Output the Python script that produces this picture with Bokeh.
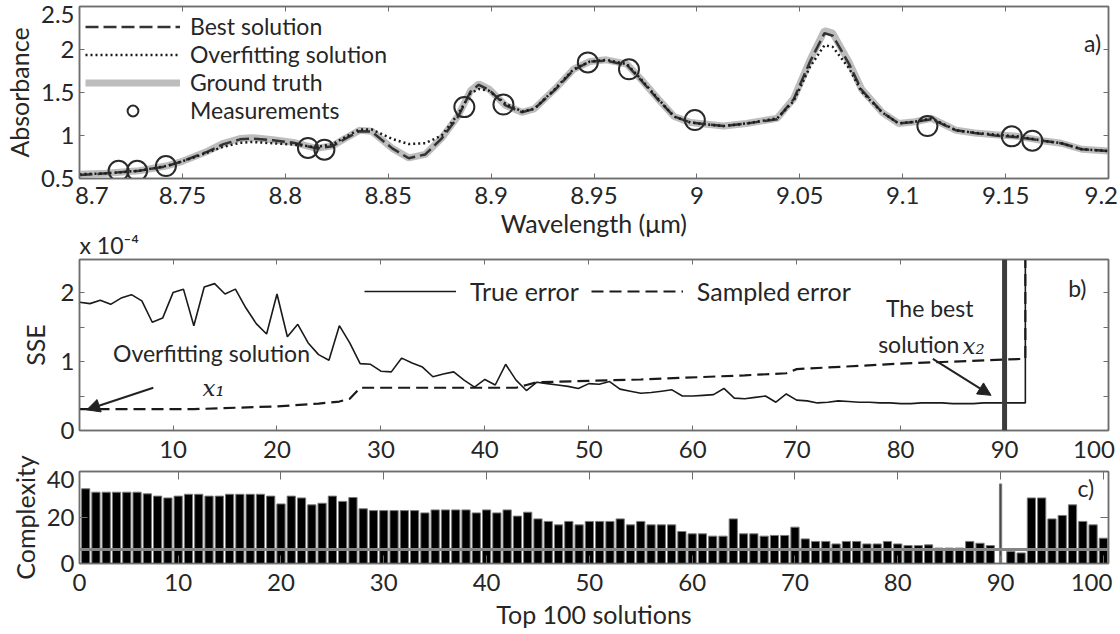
from bokeh.plotting import figure
from bokeh.models import (Legend, LegendItem, Label, Arrow, NormalHead, Span,
                          FixedTicker, LinearAxis, Range1d, ColumnDataSource)
from bokeh.layouts import column
from bokeh.embed import file_html
from bokeh.resources import INLINE

FONT = "Lato"
SERIF = "DejaVu Serif"
INK = "#262626"
FRAME = "#6e6e6e"
TICK_FS = "24px"
TITLE_FS = "25px"
LEGEND_FS = "23px"
TEXT_FS = "23px"

# ---------------- panel a) spectra ----------------
WAVELENGTH = [8.700, 8.713, 8.729, 8.742, 8.750, 8.762, 8.770, 8.778, 8.784, 8.794,
              8.804, 8.815, 8.823, 8.829, 8.836, 8.842, 8.852, 8.860, 8.868, 8.876,
              8.884, 8.890, 8.894, 8.899, 8.907, 8.915, 8.921, 8.931, 8.940, 8.948,
              8.956, 8.966, 8.973, 8.981, 8.989, 8.997, 9.013, 9.024, 9.039, 9.047,
              9.055, 9.062, 9.066, 9.074, 9.080, 9.090, 9.098, 9.106, 9.114, 9.126,
              9.135, 9.145, 9.156, 9.168, 9.177, 9.187, 9.200]
GROUND_TRUTH = [0.55, 0.56, 0.59, 0.645, 0.70, 0.815, 0.91, 0.965, 0.975, 0.95,
                0.92, 0.85, 0.88, 0.965, 1.06, 1.05, 0.85, 0.74, 0.78, 0.97,
                1.23, 1.52, 1.60, 1.54, 1.35, 1.27, 1.31, 1.54, 1.77, 1.86,
                1.88, 1.83, 1.65, 1.43, 1.22, 1.15, 1.11, 1.14, 1.20, 1.43,
                1.88, 2.22, 2.19, 1.85, 1.54, 1.27, 1.14, 1.16, 1.20, 1.06,
                1.03, 1.01, 0.99, 0.94, 0.91, 0.84, 0.82]
BEST_SOLUTION = [0.54, 0.56, 0.59, 0.64, 0.70, 0.81, 0.90, 0.955, 0.965, 0.945,
                 0.915, 0.85, 0.875, 0.96, 1.05, 1.045, 0.85, 0.735, 0.78, 0.965,
                 1.22, 1.51, 1.59, 1.53, 1.35, 1.27, 1.31, 1.53, 1.76, 1.86,
                 1.87, 1.82, 1.64, 1.42, 1.22, 1.15, 1.11, 1.14, 1.19, 1.42,
                 1.86, 2.19, 2.16, 1.83, 1.53, 1.27, 1.14, 1.16, 1.19, 1.06,
                 1.03, 1.00, 0.98, 0.94, 0.91, 0.84, 0.82]
OVERFIT_SOLUTION = [0.55, 0.56, 0.59, 0.645, 0.70, 0.80, 0.87, 0.915, 0.925, 0.91,
                    0.895, 0.865, 0.90, 0.98, 1.07, 1.07, 0.96, 0.90, 0.91, 1.00,
                    1.25, 1.49, 1.54, 1.52, 1.37, 1.28, 1.31, 1.54, 1.77, 1.86,
                    1.88, 1.83, 1.65, 1.43, 1.22, 1.15, 1.11, 1.14, 1.20, 1.40,
                    1.80, 2.05, 2.03, 1.78, 1.51, 1.27, 1.14, 1.16, 1.20, 1.06,
                    1.03, 1.01, 0.99, 0.94, 0.91, 0.84, 0.82]
MEAS_WL = [8.719, 8.728, 8.742, 8.811, 8.819, 8.887, 8.906, 8.947, 8.967, 8.999,
           9.112, 9.153, 9.163]
MEAS_ABS = [0.59, 0.59, 0.645, 0.855, 0.835, 1.33, 1.36, 1.85, 1.77, 1.18,
            1.11, 0.99, 0.94]
A_XTICKS = [8.7, 8.75, 8.8, 8.85, 8.9, 8.95, 9.0, 9.05, 9.1, 9.15, 9.2]
A_XLABELS = ["8.7", "8.75", "8.8", "8.85", "8.9", "8.95", "9", "9.05", "9.1", "9.15", "9.2"]
A_YTICKS = [0.5, 1.0, 1.5, 2.0, 2.5]
A_YLABELS = ["0.5", "1", "1.5", "2", "2.5"]

# ---------------- panel b) errors ----------------
SOLUTION_IDX = list(range(1, 93))
TRUE_ERROR = [1.86, 1.84, 1.89, 1.83, 1.92, 1.97, 1.88, 1.57, 1.63, 2.00,
              2.05, 1.52, 2.08, 2.13, 1.98, 2.05, 1.78, 1.55, 1.40, 1.98,
              1.36, 1.54, 1.27, 1.10, 1.02, 1.52, 1.27, 0.97, 0.96, 0.86,
              0.85, 1.05, 0.98, 0.92, 0.78, 0.82, 0.85, 0.73, 0.63, 0.74,
              0.66, 0.96, 0.73, 0.58, 0.70, 0.68, 0.66, 0.64, 0.61, 0.68,
              0.67, 0.71, 0.60, 0.57, 0.54, 0.55, 0.57, 0.59, 0.50, 0.50,
              0.51, 0.52, 0.61, 0.47, 0.46, 0.48, 0.50, 0.41, 0.53, 0.44,
              0.43, 0.40, 0.41, 0.43, 0.42, 0.41, 0.41, 0.40, 0.40, 0.39,
              0.39, 0.40, 0.40, 0.40, 0.39, 0.39, 0.39, 0.40, 0.40, 0.40,
              0.40, 0.40]
SAMPLED_X = [1, 12, 16, 20, 24, 26, 27, 28, 43, 44, 45, 55, 65, 69, 70, 80, 92]
SAMPLED_ERROR = [0.31, 0.31, 0.33, 0.35, 0.39, 0.42, 0.46, 0.62, 0.62, 0.66,
                 0.70, 0.74, 0.80, 0.83, 0.89, 0.97, 1.04]
OFF_SCALE = 3.0          # both errors shoot off the top after solution 92
BEST_INDEX = 90
SSE_SCALE = "x 10⁻⁴"
B_XTICKS = [10, 20, 30, 40, 50, 60, 70, 80, 90, 100]
B_XLABELS = ["10", "20", "30", "40", "50", "60", "70", "80", "90", "100"]
B_YTICKS = [0, 0.5, 1, 1.5, 2]
B_YLABELS = ["0", "", "1", "", "2"]

# ---------------- panel c) complexity ----------------
COMPLEXITY = [32.5, 31, 31, 31, 31, 31, 30.3, 29.3, 28.5, 29.3,
              30.1, 30.1, 29.3, 29.3, 30.1, 30.1, 30.1, 30.1, 29.3, 25.9,
              29.3, 28.5, 25.5, 26.2, 29.3, 27, 28.7, 23.8, 23, 23,
              23, 23, 23, 22, 23.3, 23.3, 23.3, 23.3, 22, 23.3,
              22, 23.3, 20.6, 22.3, 19.4, 18.3, 16.8, 18.3, 16.8, 18.3,
              18.3, 18.3, 19.4, 16.8, 18.3, 16.8, 16.8, 16.8, 13.9, 12.9,
              12.9, 11.9, 11.9, 19.4, 12.9, 12.9, 11.9, 12.2, 12.2, 15.8,
              10.7, 9.6, 9.6, 8.5, 9.6, 9.6, 8.5, 8.5, 9.6, 8.5,
              7.8, 7.8, 8.1, 6.7, 6.7, 6.7, 9.6, 8.8, 7.8, 34.6,
              5.2, 4.6, 28.5, 28.5, 19.4, 20.9, 25.5, 18.3, 16.8, 11]
COMPLEXITY_IDX = list(range(1, 101))
REFERENCE_LEVEL = 6.1
C_XTICKS = [0, 10, 20, 30, 40, 50, 60, 70, 80, 90, 100]
C_XLABELS = ["0", "10", "20", "30", "40", "50", "60", "70", "80", "90", "100"]
C_YTICKS = [0, 20, 40]
C_YLABELS = ["0", "20", "40"]


def style(p, xticks, xlabels, yticks, ylabels, xtitle, ytitle, x_standoff, tick_len,
          x_title_standoff, y_title_standoff, x_nudge=None, y_nudge=None):
    """Tick marks sit on the true tick values (drawn as minor ticks); edge labels are
    nudged inward (as in the reference) by placing the invisible major ticks slightly
    off the true value."""
    p.grid.visible = False
    p.outline_line_color = FRAME
    p.outline_line_width = 1.5
    p.background_fill_color = "white"
    x_nudge, y_nudge = x_nudge or {}, y_nudge or {}
    xpos = [t + x_nudge.get(l, 0) for t, l in zip(xticks, xlabels)]
    ypos = [t + y_nudge.get(l, 0) for t, l in zip(yticks, ylabels)]
    xa, ya = p.below[0], p.left[0]
    xa.ticker = FixedTicker(ticks=xpos, minor_ticks=xticks)
    ya.ticker = FixedTicker(ticks=ypos, minor_ticks=yticks)
    xa.major_label_overrides = dict(zip(xpos, xlabels))
    ya.major_label_overrides = dict(zip(ypos, ylabels))
    xa.major_label_standoff = x_standoff
    ya.major_label_standoff = 5
    xa.axis_label = xtitle
    ya.axis_label = ytitle
    xa.axis_label_standoff = x_title_standoff
    ya.axis_label_standoff = y_title_standoff
    for ax in (xa, ya):
        ax.axis_line_color = FRAME
        ax.axis_line_width = 1.5
        ax.major_tick_line_color = None
        ax.major_tick_in = 0
        ax.major_tick_out = 0
        ax.minor_tick_line_color = FRAME
        ax.minor_tick_in = tick_len
        ax.minor_tick_out = 0
        ax.major_label_text_font = FONT
        ax.major_label_text_font_size = TICK_FS
        ax.major_label_text_color = INK
        ax.axis_label_text_font = FONT
        ax.axis_label_text_font_style = "normal"
        ax.axis_label_text_font_size = TITLE_FS
        ax.axis_label_text_color = INK
    for ticks, place in ((xticks, "above"), (yticks, "right")):
        ax = LinearAxis(ticker=FixedTicker(ticks=ticks), major_tick_in=tick_len,
                        major_tick_out=0, minor_tick_line_color=None,
                        major_label_text_font_size="0px", major_label_text_color=None,
                        major_label_standoff=0, axis_line_color=FRAME,
                        axis_line_width=1.5, major_tick_line_color=FRAME)
        p.add_layout(ax, place)


def text(p, x, y, s, align="center", size=TEXT_FS, font=FONT, style_="normal", bg=None):
    p.add_layout(Label(x=x, y=y, text=s, text_align=align, text_baseline="middle",
                       text_font=font, text_font_size=size, text_font_style=style_,
                       text_color=INK, background_fill_color=bg))


# ================= panel a =================
pa = figure(width=1120, height=240, output_backend="svg", toolbar_location=None,
            x_range=Range1d(8.7, 9.2), y_range=Range1d(0.5, 2.5),
            min_border_left=73, min_border_right=12, min_border_top=6, min_border_bottom=59)
pa.border_fill_color = "white"
style(pa, A_XTICKS, A_XLABELS, A_YTICKS, A_YLABELS, "Wavelength (μm)", "Absorbance",
      x_standoff=8, tick_len=5, x_title_standoff=1, y_title_standoff=4,
      x_nudge={"8.7": 0.006, "9.2": -0.0035}, y_nudge={"2.5": -0.09})

r_gt = pa.line(WAVELENGTH, GROUND_TRUTH, line_color="#bdbdbd", line_width=7)
r_best = pa.line(WAVELENGTH, BEST_SOLUTION, line_color="#333333", line_width=2.5, line_dash="13 5")
r_over = pa.line(WAVELENGTH, OVERFIT_SOLUTION, line_color="#1a1a1a", line_width=2.5, line_dash="2 3")
r_meas = pa.scatter(MEAS_WL, MEAS_ABS, marker="circle", size=20, fill_color=None,
                    line_color="#2a2a2a", line_width=2)
leg_a = Legend(items=[LegendItem(label="Best solution", renderers=[r_best]),
                      LegendItem(label="Overfitting solution", renderers=[r_over]),
                      LegendItem(label="Ground truth", renderers=[r_gt]),
                      LegendItem(label="Measurements", renderers=[r_meas])],
               location="top_left", glyph_width=95, glyph_height=27, label_height=27,
               label_standoff=10, spacing=0, padding=0, margin=6,
               label_text_font=FONT, label_text_font_size=LEGEND_FS, label_text_color=INK,
               border_line_color=None, background_fill_alpha=0)
pa.add_layout(leg_a)
text(pa, 9.1923, 2.08, "a)")

# ================= panel b =================
# canvas starts 30 px above the end of panel a (negative margin) so that the
# "x 10^-4" scale note fits above the frame
pb = figure(width=1120, height=256, output_backend="svg", toolbar_location=None,
            x_range=Range1d(1, 100), y_range=Range1d(0, 2.48),
            min_border_left=73, min_border_right=12, min_border_top=49, min_border_bottom=36,
            title=SSE_SCALE)
pb.margin = (-30, 0, 0, 0)
pb.border_fill_color = None
pb.title.align = "left"
pb.title.offset = 0
pb.title.standoff = 2
pb.title.text_font = FONT
pb.title.text_font_size = TEXT_FS
pb.title.text_font_style = "normal"
pb.title.text_color = INK
style(pb, B_XTICKS, B_XLABELS, B_YTICKS, B_YLABELS, None, "SSE",
      x_standoff=10, tick_len=5, x_title_standoff=0, y_title_standoff=8,
      x_nudge={"100": -1.4})

pb.add_layout(Span(location=BEST_INDEX, dimension="height", line_color="#3c3c3c", line_width=5))
r_true = pb.line(SOLUTION_IDX + [SOLUTION_IDX[-1]], TRUE_ERROR + [OFF_SCALE],
                 line_color="#1a1a1a", line_width=1.6)
r_samp = pb.line(SAMPLED_X + [SAMPLED_X[-1]], SAMPLED_ERROR + [OFF_SCALE],
                 line_color="#1a1a1a", line_width=2.2, line_dash="12 6")
leg_b = Legend(items=[LegendItem(label="True error", renderers=[r_true]),
                      LegendItem(label="Sampled error", renderers=[r_samp])],
               location=(285, 124), orientation="horizontal", glyph_width=92,
               glyph_height=28, label_height=28, label_standoff=14, spacing=12,
               padding=0, margin=0, label_text_font=FONT, label_text_font_size="25px",
               label_text_color=INK, border_line_color=None, background_fill_alpha=0)
pb.add_layout(leg_b)

text(pb, 13.7, 1.12, "Overfitting solution")
text(pb, 13.9, 0.62, "x₁", font=SERIF, style_="italic")
pb.add_layout(Arrow(end=NormalHead(size=13, fill_color="#222222", line_color="#222222"),
                    x_start=8.1, y_start=0.62, x_end=1.7, y_end=0.30,
                    line_color="#222222", line_width=2))
text(pb, 82.8, 1.77, "The best")
text(pb, 85.66, 1.26, "solution", align="right")
text(pb, 85.95, 1.23, "x₂", align="left", font=SERIF, style_="italic")
pb.add_layout(Arrow(end=NormalHead(size=13, fill_color="#222222", line_color="#222222"),
                    x_start=83.1, y_start=1.04, x_end=88.7, y_end=0.51,
                    line_color="#222222", line_width=2))
text(pb, 97.0, 2.07, "b)")

# ================= panel c =================
pc = figure(width=1120, height=194, output_backend="svg", toolbar_location=None,
            x_range=Range1d(0.4, 100.5), y_range=Range1d(0, 40),
            min_border_left=73, min_border_right=10, min_border_top=31, min_border_bottom=71)
pc.margin = (-26, 0, 0, 0)
pc.border_fill_color = None
style(pc, C_XTICKS, C_XLABELS, C_YTICKS, C_YLABELS, "Top 100 solutions", "Complexity",
      x_standoff=10, tick_len=8, x_title_standoff=5, y_title_standoff=4,
      x_nudge={"0": 0.4, "100": -1.15}, y_nudge={"40": -3.5})

bar_w = [0.22 if i == BEST_INDEX else 0.8 for i in COMPLEXITY_IDX]
bar_c = ["#4a4a4a" if i == BEST_INDEX else "black" for i in COMPLEXITY_IDX]
src = ColumnDataSource(dict(x=COMPLEXITY_IDX, top=COMPLEXITY, w=bar_w, c=bar_c))
pc.vbar(x="x", top="top", width="w", bottom=0, fill_color="c", line_color="#7a7a7a",
        line_width=1, source=src)
pc.add_layout(Span(location=REFERENCE_LEVEL, dimension="width", line_color="#858585", line_width=3))
text(pc, 98.3, 33, "c)", bg="white")

layout = column(pa, pb, pc, spacing=0)
open("out.html", "w").write(file_html(layout, INLINE))
